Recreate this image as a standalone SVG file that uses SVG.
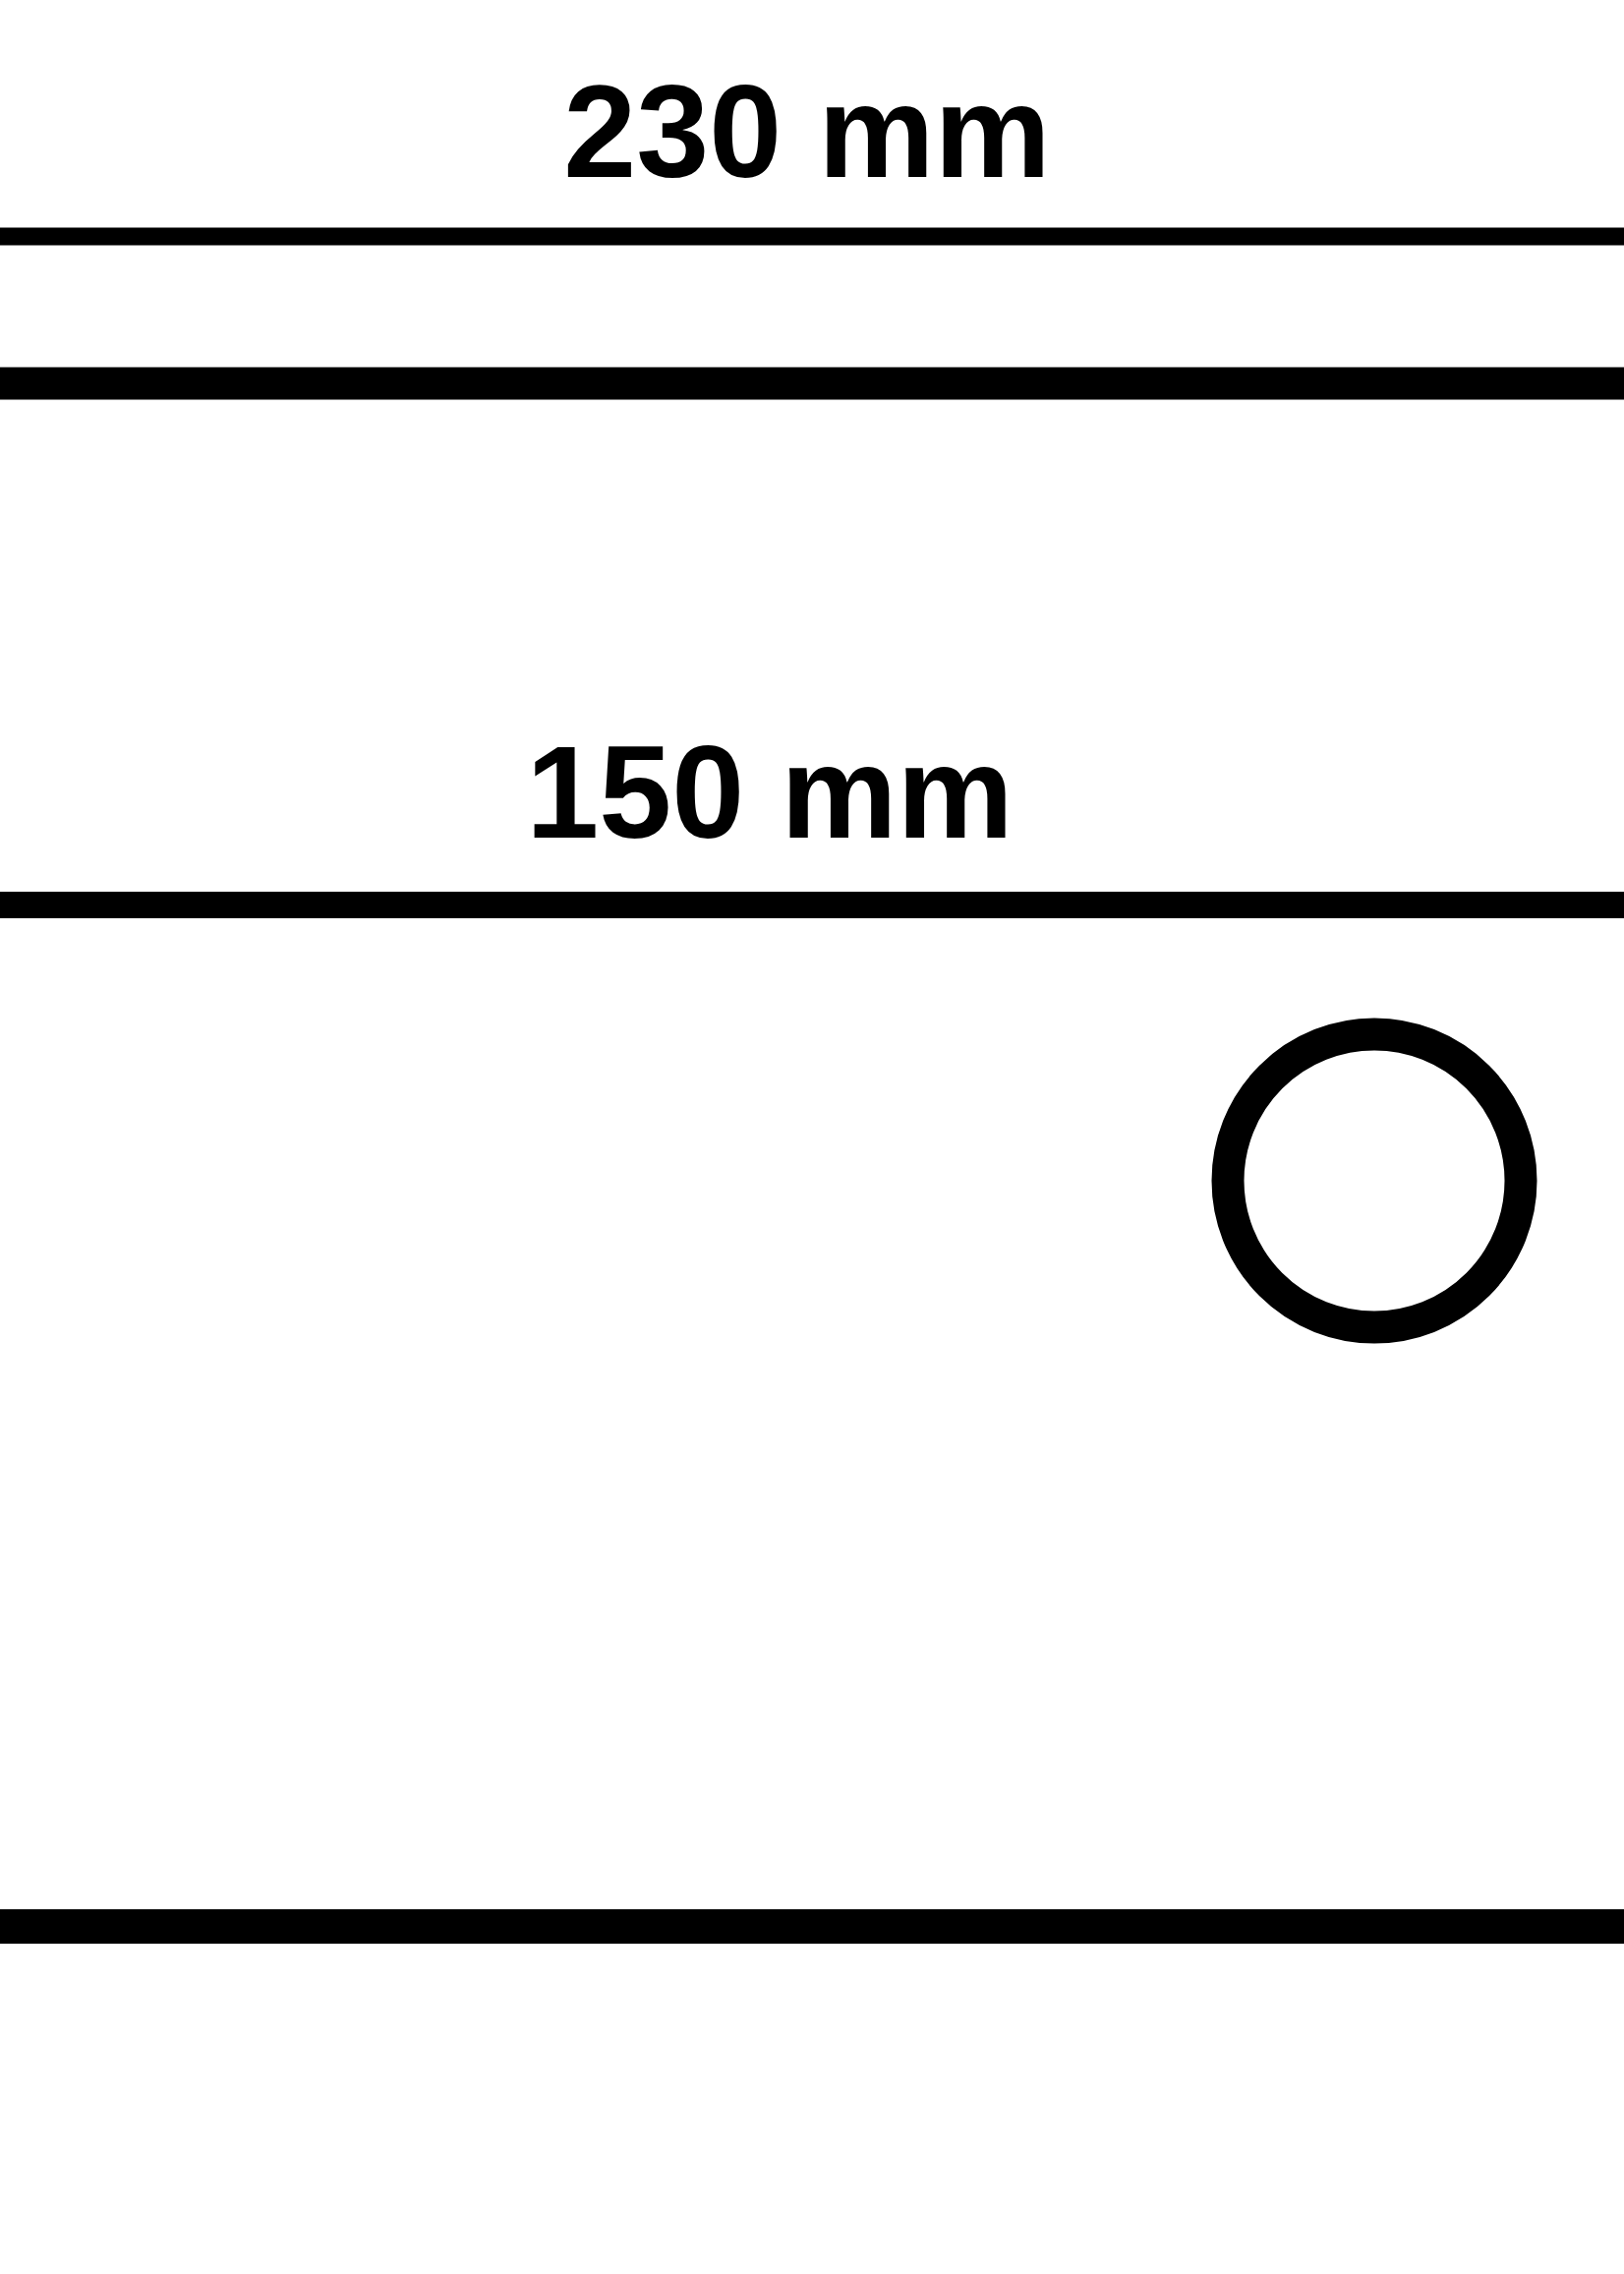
<svg xmlns="http://www.w3.org/2000/svg" width="1652" height="2313" viewBox="0 0 1652 2313">
<style>
.lbl{font-family:"Liberation Sans",Arial,sans-serif;font-weight:bold;font-size:133px;fill:#000;text-anchor:middle}
.ln{stroke:#000;fill:none}
</style>
<rect width="1652" height="2313" fill="#fff"/>
<g id="dim230">
<text class="lbl" x="821" y="180">230 mm</text>
<line class="ln" x1="0" y1="240.5" x2="1652" y2="240.5" stroke-width="18"/>
</g>
<g id="plate-top">
<line class="ln" x1="0" y1="390" x2="1652" y2="390" stroke-width="33"/>
</g>
<g id="dim150">
<text class="lbl" x="783" y="852">150 mm</text>
<line class="ln" x1="0" y1="920.5" x2="1652" y2="920.5" stroke-width="27"/>
</g>
<g id="hole">
<circle class="ln" cx="1398" cy="1201" r="149" stroke-width="33"/>
</g>
<g id="plate-bottom">
<line class="ln" x1="0" y1="1959.5" x2="1652" y2="1959.5" stroke-width="35"/>
</g>
</svg>
